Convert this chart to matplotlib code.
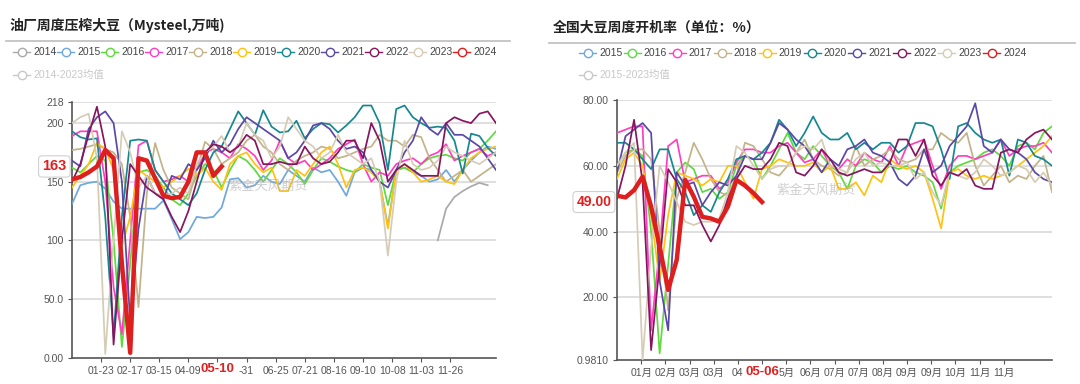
import numpy as np
import matplotlib
matplotlib.use("Agg")
import matplotlib.pyplot as plt
from matplotlib.lines import Line2D

N = None
# ---------------- data: left chart (weekly soybean crush, 万吨) ----------------
left_title = "油厂周度压榨大豆（Mysteel,万吨)"
left_years = ["2014", "2015", "2016", "2017", "2018", "2019", "2020", "2021", "2022", "2023", "2024"]
left_avg_label = "2014-2023均值"
left_xticklabels = ["01-23", "02-17", "03-15", "04-09", "", "-31", "06-25",
                    "07-21", "08-16", "09-10", "10-08", "11-03", "11-26"]
left_current_label = "05-10"
left_current_value = "163"
left_yticks = [0, 50, 100, 150, 200, 218]
left_yticklabels = ["0.00", "50.0", "100", "150", "200", "218"]

crush_2014 = [N]*44 + [100, 127, 137, 142, 146, 149, 147, N]
crush_2015 = [131, 147, 149, 150, 144, 133, 127, 127, 127, 127, 127, 134, 118, 101, 107, 120, 119, 120, 128,
              152, 153, 145, 147, 155, 150, 148, 160, 155, 150, 162, 158, 160, 150, 138, 158, 162, 160, 150,
              112, 160, 162, 158, 155, 150, 152, 160, 150, 160, 168, 175, 180, 178]
crush_2016 = [162, 158, 165, 172, 168, 100, 9, 80, 158, 160, 155, 145, 135, 130, 140, 155, 165, 160, 145,
              160, 172, 168, 160, 150, 160, 170, 165, 158, 148, 160, 170, 167, 163, 160, 158, 165, 162, 160,
              130, 160, 162, 158, 165, 170, 172, 173, 170, 168, 175, 178, 185, 193]
crush_2017 = [189, 193, 193, 193, 150, 60, 20, 100, 181, 185, 160, 150, 152, 155, 150, 160, 175, 178, 175,
              170, 182, 178, 172, 160, 168, 185, 170, 165, 168, 160, 165, 170, 178, 182, 186, 165, 150, 158,
              155, 165, 168, 170, 165, 172, 175, 182, 168, 172, 175, 178, 172, 175]
crush_2018 = [177, 178, 180, 182, 178, 175, 165, 120, 43, 140, 183, 160, 145, 140, 135, 160, 184, 178, 165,
              170, 175, 185, 190, 180, 175, 165, 160, 168, 172, 175, 180, 178, 170, 172, 175, 178, 180, 190,
              185, 185, 180, 190, 188, 170, 160, 150, 155, 160, 150, 155, 160, 165]
crush_2019 = [145, 155, 165, 183, 178, 160, 95, 120, 160, 155, 150, 145, 150, 155, 161, 155, 162, 150, 143,
              165, 172, 175, 165, 158, 162, 142, 142, 160, 155, 165, 175, 180, 165, 145, 160, 162, 158, 150,
              110, 160, 165, 158, 150, 152, 155, 150, 148, 160, 170, 175, 178, 180]
crush_2020 = [193, 188, 186, 187, 120, 18, 120, 185, 186, 185, 160, 150, 140, 135, 130, 140, 160, 175, 180,
              195, 210, 200, 190, 211, 197, 192, 193, 202, 187, 195, 200, 199, 192, 198, 205, 215, 215, 200,
              160, 212, 215, 205, 200, 196, 197, 196, 185, 157, 191, 189, 179, 172]
crush_2021 = [168, 163, 195, 205, 210, 200, 150, 30, 110, 155, 140, 135, 155, 152, 165, 160, 170, 185, 175,
              182, 195, 205, 200, 195, 190, 185, 170, 175, 185, 198, 200, 195, 185, 178, 180, 175, 160, 150,
              145, 160, 175, 185, 205, 195, 190, 200, 190, 190, 185, 180, 170, 160]
crush_2022 = [150, 165, 190, 214, 180, 11, 100, 165, 155, 145, 140, 135, 120, 107, 125, 150, 175, 182, 180,
              175, 180, 190, 185, 165, 165, 167, 165, 165, 180, 170, 165, 167, 175, 185, 185, 170, 200, 185,
              150, 160, 165, 160, 155, 155, 155, 200, 205, 202, 200, 208, 210, 200]
crush_2023 = [200, 205, 208, 170, 3, 100, 193, 175, 145, 155, 140, 138, 140, 145, 140, 165, 175, 180, 189,
              175, 180, 200, 190, 185, 170, 180, 205, 195, 185, 180, 170, 175, 190, 175, 170, 165, 170, 150,
              87, 150, 185, 165, 160, 162, 168, 180, 175, 172, 168, 165, 170, 175]
crush_2024 = [152, 154, 158, 163, 177, 170, 80, 4, 170, 168, 153, 138, 136, 137, 150, 175, 175, 155, 163]

# ---------------- data: right chart (weekly operating rate, %) ----------------
right_title = "全国大豆周度开机率（单位：%）"
right_years = ["2015", "2016", "2017", "2018", "2019", "2020", "2021", "2022", "2023", "2024"]
right_avg_label = "2015-2023均值"
right_xticklabels = ["01月", "02月", "03月", "03月", "04", "", "5月", "06月", "07月", "07月",
                     "08月", "09月", "09月", "10月", "11月", "11月"]
right_current_label = "05-06"
right_current_value = "49.00"
right_yticks = [0.981, 20, 40, 60, 80]
right_yticklabels = ["0.9810", "20.00", "40.00", "60.00", "80.00"]

rate_2015 = [N]*52
rate_2016 = [60, 64, 65, 63, 40, 3, 30, 58, 61, 59, 52, 53, 50, 52, 60, 63, 62, 56, 60, 65, 70, 64, 62, 66,
             63, 60, 58, 53, 60, 62, 61, 58, 60, 59, 60, 58, 57, 55, 47, 58, 60, 61, 62, 64, 65, 63, 60, 66,
             67, 65, 70, 72]
rate_2017 = [70, 71, 72, 72, 10, 35, 66, 68, 55, 56, 57, 57, 53, 55, 61, 65, 65, 64, 64, 66, 67, 64, 61, 62,
             65, 60, 59, 62, 60, 64, 62, 61, 66, 60, 66, 67, 68, 60, 53, 60, 63, 63, 62, 63, 64, 68, 63, 65,
             66, 66, 67, 64]
rate_2018 = [58, 63, 65, 65, 62, 40, 16, 50, 58, 67, 62, 56, 52, 51, 57, 67, 66, 62, 58, 57, 60, 64, 68, 62,
             60, 59, 57, 58, 66, 60, 62, 63, 65, 62, 61, 62, 65, 65, 70, 68, 67, 70, 60, 54, 57, 60, 55, 57,
             56, 60, 63, 52]
rate_2019 = [56, 62, 64, 60, 45, 25, 45, 58, 57, 56, 54, 56, 55, 60, 60, 55, 50, 59, 60, 62, 61, 60, 60, 61,
             58, 60, 53, 53, 55, 51, 57, 55, 62, 60, 59, 60, 58, 50, 41, 58, 59, 57, 56, 57, 56, 57, 58, 60,
             62, 64, 66, 69]
rate_2020 = [67, 67, 65, 62, 59, 65, 65, 56, 52, 45, 48, 46, 52, 56, 62, 63, 62, 64, 67, 74, 71, 66, 70, 75,
             70, 68, 68, 70, 65, 67, 65, 67, 67, 64, 66, 73, 73, 72, 65, 56, 72, 73, 70, 68, 67, 68, 57, 68,
             67, 63, 62, 60]
rate_2021 = [58, 69, 71, 73, 70, 25, 10, 58, 54, 55, 48, 52, 55, 54, 57, 63, 62, 62, 67, 73, 71, 68, 66, 62,
             58, 62, 60, 65, 66, 68, 64, 63, 61, 56, 54, 57, 65, 58, 60, 66, 69, 72, 79, 66, 64, 68, 65, 64,
             62, 58, 56, 55]
rate_2022 = [50, 60, 74, 55, 4, 30, 59, 55, 48, 48, 42, 37, 42, 50, 56, 60, 59, 59, 62, 67, 66, 58, 57, 60,
             65, 62, 58, 57, 58, 59, 58, 58, 61, 68, 68, 63, 68, 57, 54, 58, 57, 59, 54, 53, 53, 64, 65, 64,
             68, 70, 71, 68]
rate_2023 = [60, 64, 67, 1, 35, 60, 55, 49, 43, 42, 43, 43, 44, 52, 66, 64, 60, 56, 59, 60, 60, 64, 66, 65,
             68, 60, 59, 58, 62, 64, 60, 61, 60, 60, 61, 56, 58, 52, 48, 58, 57, 56, 58, 62, 60, 57, 58, 60,
             59, 55, 58, 54]
rate_2024 = [50.9, 50.4, 52.6, 56.7, 47.6, 35.4, 22.3, 31.4, 55.7, 50.6, 44.5, 44.0, 43.0, 47.6, 55.7, 54.0,
             51.7, 49.0]

# ---------------- styling ----------------
colors = {"2014": "#a9a9a9", "2015": "#6fa8dc", "2016": "#5fd93f", "2017": "#ff3fbf",
          "2018": "#c3b38a", "2019": "#ffc20e", "2020": "#16878f", "2021": "#5a48a6",
          "2022": "#86155f", "2023": "#d6ccb6", "2024": "#dd1f1f"}
avg_color = "#c8c8c8"
CJK = ["Noto Sans CJK SC", "DejaVu Sans"]
LAT = ["Liberation Sans", "Noto Sans CJK SC", "DejaVu Sans"]
plt.rcParams["font.family"] = CJK

fig = plt.figure(figsize=(10.8, 3.84), dpi=100)
W, H = 1080.0, 384.0


def fx(px):
    return px / W


def fy(py):
    return 1 - py / H


left_series = [crush_2014, crush_2015, crush_2016, crush_2017, crush_2018, crush_2019,
               crush_2020, crush_2021, crush_2022, crush_2023, crush_2024]
right_series = [rate_2015, rate_2016, rate_2017, rate_2018, rate_2019, rate_2020,
                rate_2021, rate_2022, rate_2023, rate_2024]


def draw_panel(box, years, series, ylim, yticks, yticklabels, xtickpos, xticklabels,
               cur_idx, cur_label, cur_val, cur_y, val_fs):
    ax = fig.add_axes(box)
    n = 52
    for yr, vals in zip(years, series):
        v = np.array([np.nan if a is None else a for a in vals], dtype=float)
        x = np.arange(len(v))
        if yr == "2024":
            ax.plot(x, v, color=colors[yr], lw=3.2, zorder=10, solid_joinstyle="round")
        else:
            ax.plot(x, v, color=colors[yr], lw=1.25, zorder=3 + (1 if yr == "2022" else 0))
    ax.set_xlim(0, n - 1)
    ax.set_ylim(*ylim)
    ax.set_yticks(yticks)
    ax.set_yticklabels(yticklabels, fontfamily=LAT, fontsize=7.5, color="#555555")
    ax.set_xticks(xtickpos)
    ax.set_xticklabels(xticklabels, fontfamily=LAT, fontsize=7.5, color="#555555")
    for t in yticks[1:]:
        ax.axhline(t, color="#dcdcdc", lw=1.3, zorder=0)
    for s in ["top", "right"]:
        ax.spines[s].set_visible(False)
    for s in ["left", "bottom"]:
        ax.spines[s].set_color("#555555")
        ax.spines[s].set_linewidth(1.2)
    ax.tick_params(axis="both", length=3, color="#555555", pad=3)
    # current-date label on x axis
    ax.annotate(cur_label, xy=(cur_idx, 0), xycoords=("data", "axes fraction"),
                xytext=(0, -8.5), textcoords="offset points", ha="center", va="center",
                fontsize=9.5, fontweight="bold", color="#e02020", fontfamily=LAT,
                zorder=20, annotation_clip=False)
    # current value label on y axis
    ax.annotate(cur_val, xy=(0, cur_y), xycoords=("axes fraction", "data"),
                xytext=(-4, 0), textcoords="offset points", ha="right", va="center",
                fontsize=val_fs, fontweight="bold", color="#e02020", fontfamily=LAT,
                bbox=dict(boxstyle="round,pad=0.25", fc="white", ec="#d0d0d0", lw=0.8), zorder=20,
                annotation_clip=False)
    return ax


# left panel
axL = draw_panel([fx(72), fy(357.5), fx(496 - 72), (357.5 - 102) / H], left_years, left_series,
                 (0, 218), left_yticks, left_yticklabels, 3.5 + 3.5 * np.arange(13),
                 left_xticklabels, 17.5, left_current_label, left_current_value, 163, 10.5)
# right panel
axR = draw_panel([fx(617), fy(360), fx(1052 - 617), (360 - 100) / H], right_years, right_series,
                 (0.981, 80), right_yticks, right_yticklabels, (51 / 18) * np.arange(1, 17),
                 right_xticklabels, 17, right_current_label, right_current_value, 49.0, 10)

# watermarks
fig.text(fx(228), fy(186), "紫金天风期货", fontsize=9.5, color="#b0b0b0", alpha=0.6, va="center")
fig.text(fx(776), fy(190), "紫金天风期货", fontsize=9.5, color="#b0b0b0", alpha=0.6, va="center")

# titles and separators
fig.text(fx(10), fy(25), left_title, fontsize=10, fontweight="bold", color="#222222", va="center")
fig.text(fx(553), fy(28), right_title, fontsize=10, fontweight="bold", color="#222222", va="center")
fig.add_artist(Line2D([fx(6), fx(510)], [fy(41), fy(41)], color="#bdbdbd", lw=1.2))
fig.add_artist(Line2D([fx(549), fx(1075)], [fy(43), fy(43)], color="#bdbdbd", lw=1.2))


def legend_row(years, avg_label, x0, y_row1, y_row2, step):
    for k, yr in enumerate(years):
        x = x0 + k * step
        c = colors[yr]
        fig.add_artist(Line2D([fx(x), fx(x + 17)], [fy(y_row1)] * 2, color=c, lw=1.0))
        fig.add_artist(Line2D([fx(x + 8.5)], [fy(y_row1)], marker="o", ms=6, mfc="white", mec=c, mew=1.0))
        fig.text(fx(x + 20), fy(y_row1), yr, fontsize=7.5, color="#444444", va="center",
                 fontfamily=LAT)
    fig.add_artist(Line2D([fx(x0), fx(x0 + 17)], [fy(y_row2)] * 2, color=avg_color, lw=1.0))
    fig.add_artist(Line2D([fx(x0 + 8.5)], [fy(y_row2)], marker="o", ms=6, mfc="white", mec=avg_color,
                          mew=1.0))
    fig.text(fx(x0 + 20), fy(y_row2), avg_label, fontsize=7.5, color=avg_color, va="center",
             family=LAT)


legend_row(left_years, left_avg_label, 13, 52, 75, 44.0)
legend_row(right_years, right_avg_label, 579, 53, 75, 44.9)

fig.savefig("out.png", dpi=100)
